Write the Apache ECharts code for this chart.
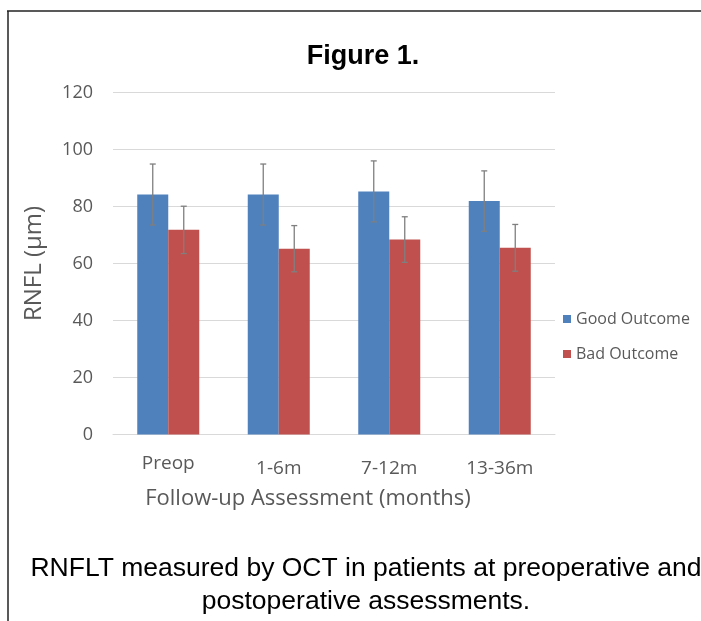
<!DOCTYPE html>
<html>
<head>
<meta charset="utf-8">
<script src="https://cdn.jsdelivr.net/npm/echarts@6/dist/echarts.min.js"></script>
<style>
  html, body { margin: 0; padding: 0; background: #fff; }
  #chart { width: 701px; height: 621px; }
</style>
</head>
<body>
<div id="chart"></div>
<script>
const categories = ['Preop', '1-6m', '7-12m', '13-36m'];
const goodMean = [84.2, 84.2, 85.3, 81.9];
const goodErr = [10.7, 10.7, 10.7, 10.6];
const badMean = [71.8, 65.2, 68.4, 65.5];
const badErr = [8.3, 8.1, 8.0, 8.2];
const yTicks = [0, 20, 40, 60, 80, 100, 120];

const blue = '#4f81bd';
const red = '#c0504d';
const textGray = '#595959';
const barW = 31;

function errorSeries(means, errs, offset) {
  return {
    type: 'custom',
    z: 5,
    data: means.map((m, i) => [i, m - errs[i], m + errs[i]]),
    renderItem(params, api) {
      const lo = api.coord([api.value(0), api.value(1)]);
      const hi = api.coord([api.value(0), api.value(2)]);
      const x = lo[0] + offset;
      const cap = 3;
      const style = { stroke: '#7f7f7f', lineWidth: 1.3 };
      return {
        type: 'group',
        children: [
          { type: 'line', shape: { x1: x, y1: lo[1], x2: x, y2: hi[1] }, style },
          { type: 'line', shape: { x1: x - cap, y1: lo[1], x2: x + cap, y2: lo[1] }, style },
          { type: 'line', shape: { x1: x - cap, y1: hi[1], x2: x + cap, y2: hi[1] }, style }
        ]
      };
    }
  };
}

const chart = echarts.init(document.getElementById('chart'));
chart.setOption({
  backgroundColor: '#fff',
  animation: false,
  title: [
    {
      text: 'Figure 1.',
      left: 358,
      top: 38,
      textAlign: 'center',
      textStyle: { fontFamily: 'Liberation Sans', fontWeight: 'bold', fontSize: 27, color: '#000' }
    },
    {
      text: 'RNFLT measured by OCT in patients at preoperative and\npostoperative assessments.',
      left: 361,
      top: 547,
      textAlign: 'center',
      textStyle: { fontFamily: 'Liberation Sans', fontWeight: 'normal', fontSize: 26.5, lineHeight: 33, color: '#000' }
    }
  ],
  graphic: [
    { type: 'line', shape: { x1: 7, y1: 11, x2: 701, y2: 11 }, style: { stroke: '#222', lineWidth: 1.5 } },
    { type: 'line', shape: { x1: 8, y1: 11, x2: 8, y2: 621 }, style: { stroke: '#222', lineWidth: 1.5 } }
  ],
  legend: {
    orient: 'vertical',
    left: 558,
    top: 306,
    itemGap: 19,
    itemWidth: 8,
    itemHeight: 8,
    icon: 'rect',
    textStyle: { fontFamily: 'Open Sans', fontSize: 16, color: textGray },
    data: ['Good Outcome', 'Bad Outcome']
  },
  grid: { left: 113, right: 146, top: 92.5, bottom: 186.5 },
  xAxis: {
    type: 'category',
    data: categories,
    name: 'Follow-up Assessment (months)',
    nameLocation: 'middle',
    nameGap: 53,
    nameTextStyle: { fontFamily: 'Open Sans', fontSize: 22, color: textGray, padding: [0, 0, 0, -52] },
    axisLine: { lineStyle: { color: '#d9d9d9' } },
    axisTick: { show: false },
    axisLabel: {
      interval: 0,
      fontFamily: 'Open Sans',
      fontSize: 19,
      color: textGray,
      margin: 20,
      formatter: v => (v === 'Preop' ? '{p|' + v + '}' : '{o|' + v + '}'),
      rich: {
        p: { fontFamily: 'Open Sans', fontSize: 19, color: textGray },
        o: { fontFamily: 'Open Sans', fontSize: 19, color: textGray, padding: [5, 0, 0, 0] }
      }
    }
  },
  yAxis: {
    type: 'value',
    min: 0,
    max: 120,
    interval: 20,
    name: 'RNFL (µm)',
    nameLocation: 'middle',
    nameGap: 67,
    nameRotate: 90,
    nameTextStyle: { fontFamily: 'Open Sans', fontSize: 24, color: textGray },
    axisLine: { show: false },
    axisTick: { show: false },
    axisLabel: {
      fontFamily: 'Open Sans',
      fontSize: 18,
      color: textGray,
      margin: 20,
      formatter: v => (yTicks.includes(v) ? String(v) : '')
    },
    splitLine: { lineStyle: { color: '#d9d9d9', width: 1 } }
  },
  series: [
    {
      name: 'Good Outcome',
      type: 'bar',
      data: goodMean,
      barWidth: barW,
      barGap: '0%',
      itemStyle: { color: blue }
    },
    {
      name: 'Bad Outcome',
      type: 'bar',
      data: badMean,
      barWidth: barW,
      barGap: '0%',
      itemStyle: { color: red }
    },
    errorSeries(goodMean, goodErr, -barW / 2),
    errorSeries(badMean, badErr, barW / 2)
  ]
});
</script>
</body>
</html>
